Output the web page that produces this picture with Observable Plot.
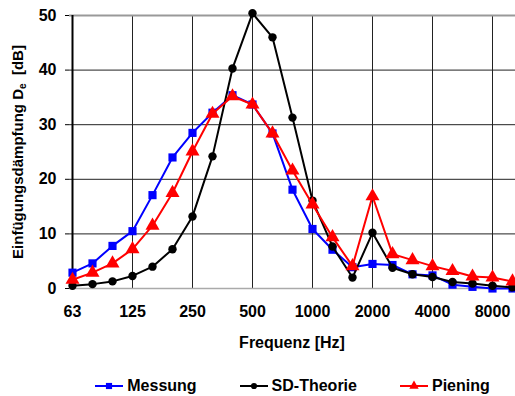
<!DOCTYPE html>
<html>
<head>
<meta charset="utf-8">
<script src="https://cdn.jsdelivr.net/npm/d3@7"></script>
<script src="https://cdn.jsdelivr.net/npm/@observablehq/plot@0.6"></script>
<style>
  html, body { margin: 0; padding: 0; background: #fff; }
  body { width: 515px; height: 396px; overflow: hidden; font-family: "Liberation Sans", Arial, sans-serif; font-weight: bold; }
  #legend { display: flex; justify-content: center; align-items: center; gap: 42px; padding-left: 69px; padding-top: 6px; height: 34px; font-size: 16px; font-weight: bold; color: #000; box-sizing: border-box; width: 515px; }
  #legend .item { display: flex; align-items: center; gap: 3px; }
</style>
</head>
<body>
<div id="chart"></div>
<div id="legend"></div>
<script>
const bands = ["63","80","100","125","160","200","250","315","400","500","630","800","1000","1250","1600","2000","2500","3150","4000","5000","6300","8000","10000"];
const tickLabels = ["63","125","250","500","1000","2000","4000","8000"];
const yTicks = [0, 10, 20, 30, 40, 50];
const seriesNames = ["Messung", "SD-Theorie", "Piening"];
const messung = [2.9, 4.6, 7.8, 10.5, 17.1, 24.0, 28.5, 32.2, 35.4, 33.7, 28.4, 18.1, 10.9, 7.1, 3.9, 4.5, 4.3, 2.6, 2.4, 0.7, 0.3, 0.0, 0.0];
const sdTheorie = [0.5, 0.8, 1.3, 2.3, 4.0, 7.2, 13.2, 24.2, 40.3, 50.4, 46.0, 31.3, 16.1, 7.7, 2.0, 10.2, 3.8, 2.6, 2.1, 1.2, 0.9, 0.5, 0.2];
const piening = [1.6, 2.9, 4.6, 7.2, 11.5, 17.5, 25.1, 32.0, 35.2, 33.7, 28.4, 21.6, 15.4, 9.4, 4.1, 16.9, 6.3, 5.2, 4.1, 3.2, 2.2, 2.0, 1.3];

const colors = {"Messung": "#0000ff", "SD-Theorie": "#000000", "Piening": "#ff0000"};
const symbols = {"Messung": "square", "SD-Theorie": "circle", "Piening": "triangle"};
const radii = {"Messung": 4.6, "SD-Theorie": 4.2, "Piening": 5.2};

const seriesValues = [messung, sdTheorie, piening];
const data = [];
seriesNames.forEach((name, k) => {
  bands.forEach((b, i) => data.push({series: name, band: b, value: seriesValues[k][i]}));
});

const font = "'Liberation Sans', Arial, sans-serif";

const marks = [
  Plot.gridY(yTicks, {stroke: "#222", strokeOpacity: 1, strokeWidth: 1}),
  Plot.gridX(tickLabels, {stroke: "#222", strokeOpacity: 1, strokeWidth: 1}),
  Plot.ruleY([50], {stroke: "#999", strokeWidth: 2}),
  Plot.ruleY([0], {stroke: "#aaa", strokeWidth: 1.5}),
  Plot.axisY(yTicks, {tickSize: 4, tickPadding: 9, fontSize: 16, fontWeight: "bold", label: null, stroke: "#000"}),
  Plot.axisX(tickLabels, {tickSize: 0, tickPadding: 17, fontSize: 16, fontWeight: "bold", label: null}),
  Plot.ruleX([bands[0]], {stroke: "#000", strokeWidth: 2})
];
seriesNames.forEach(name => {
  const d = data.filter(r => r.series === name);
  marks.push(Plot.line(d, {x: "band", y: "value", stroke: colors[name], strokeWidth: 2}));
  marks.push(Plot.dot(d, {x: "band", y: "value", fill: colors[name], stroke: "none", symbol: () => symbols[name], r: radii[name]}));
});

const chart = Plot.plot({
  width: 515,
  height: 366,
  marginLeft: 69,
  marginRight: 0,
  marginTop: 15,
  marginBottom: 78,
  style: {fontFamily: font, fontWeight: "bold", color: "#000", background: "#fff", overflow: "visible"},
  x: {type: "point", domain: bands, padding: 0},
  y: {domain: [0, 50]},
  marks
});
document.getElementById("chart").appendChild(chart);

// axis titles
const svg = d3.select(chart);
svg.append("text")
  .attr("x", 292).attr("y", 348)
  .attr("text-anchor", "middle")
  .attr("font-size", 16).attr("font-weight", "bold")
  .attr("font-family", font)
  .attr("fill", "#000")
  .text("Frequenz [Hz]");
const yl = svg.append("text")
  .attr("transform", "translate(23,152) rotate(-90)")
  .attr("text-anchor", "middle")
  .attr("font-size", 15).attr("font-weight", "bold")
  .attr("font-family", font)
  .attr("fill", "#000");
yl.append("tspan").text("Einfügungsdämpfung D");
yl.append("tspan").attr("font-size", 10).attr("dy", 3).text("e");
yl.append("tspan").attr("dy", -3).text("\u00a0\u00a0[dB]");

// legend
const legend = d3.select("#legend");
seriesNames.forEach(name => {
  const item = legend.append("div").attr("class", "item");
  const sw = item.append("svg").attr("width", 30).attr("height", 14);
  sw.append("line").attr("x1", 1).attr("x2", 29).attr("y1", 7).attr("y2", 7).attr("stroke", colors[name]).attr("stroke-width", 2);
  const sym = d3.symbol().type(symbols[name] === "square" ? d3.symbolSquare : symbols[name] === "circle" ? d3.symbolCircle : d3.symbolTriangle).size(symbols[name] === "circle" ? 30 : 38);
  sw.append("path").attr("d", sym()).attr("transform", "translate(15,7)").attr("fill", colors[name]);
  item.append("span").text(name);
});
</script>
</body>
</html>
